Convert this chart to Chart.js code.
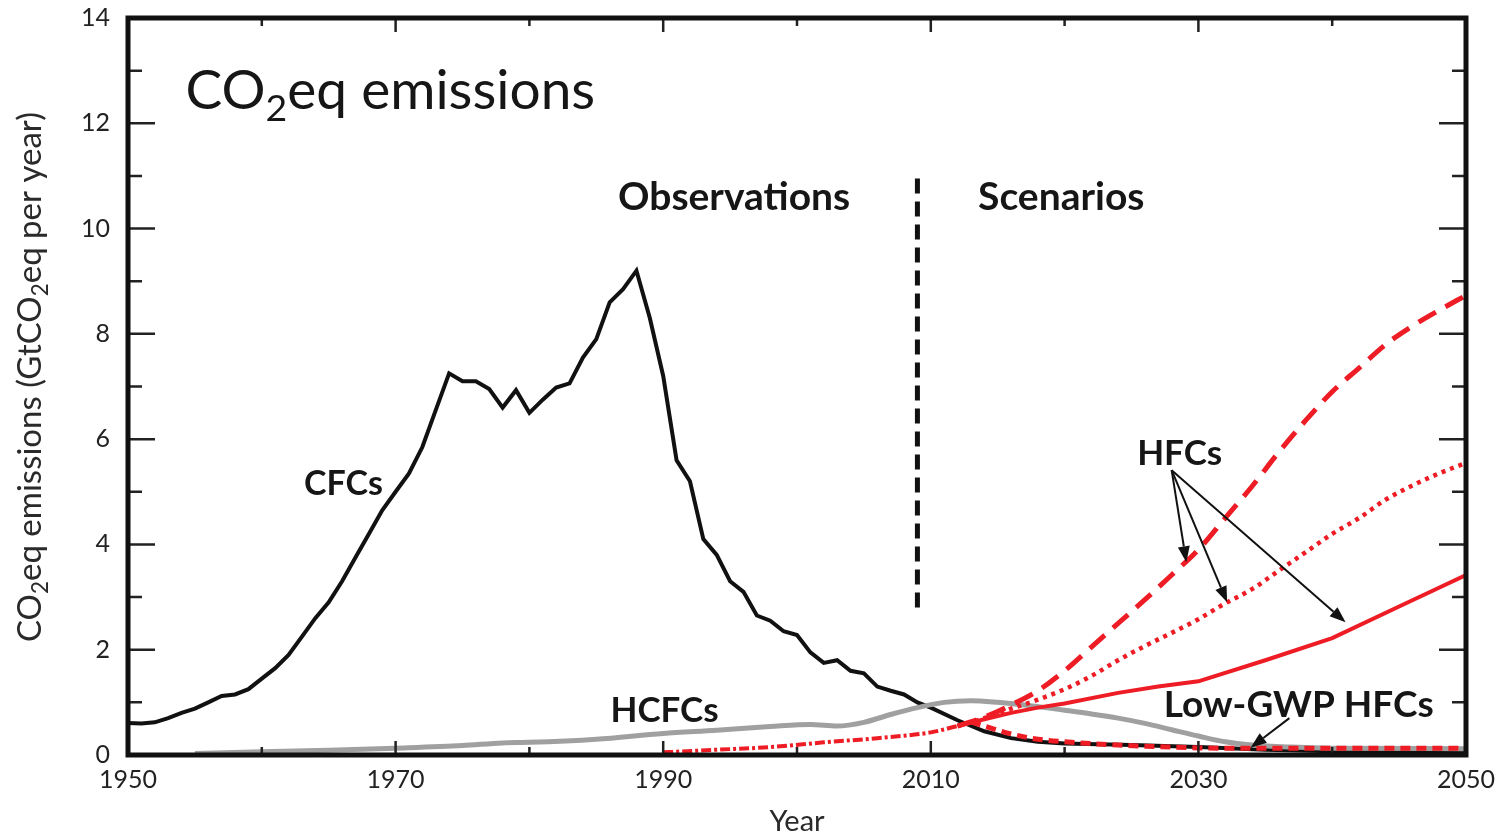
<!DOCTYPE html>
<html>
<head>
<meta charset="utf-8">
<script src="https://cdn.jsdelivr.net/npm/chart.js@4.4.1/dist/chart.umd.min.js"></script>
<style>
  html, body { margin: 0; padding: 0; background: #fff; }
  #wrap { width: 1508px; height: 832px; position: relative; }
</style>
</head>
<body>
<div id="wrap"><canvas id="chart"></canvas></div>
<script>
// CFCs (observed, then projected)
const cfcYears = [1950,1951,1952,1953,1954,1955,1956,1957,1958,1959,1960,1961,1962,1963,1964,1965,1966,1967,1968,1969,
  1970,1971,1972,1973,1974,1975,1976,1977,1978,1979,1980,1981,1982,1983,1984,1985,1986,1987,1988,1989,
  1990,1991,1992,1993,1994,1995,1996,1997,1998,1999,2000,2001,2002,2003,2004,2005,2006,2007,2008,2009,
  2010,2012,2014,2016,2018,2020,2025,2030,2035,2040,2050]
const cfcValues = [0.61,0.6,0.62,0.7,0.8,0.88,1.0,1.12,1.15,1.25,1.45,1.65,1.9,2.25,2.6,2.9,3.3,3.75,4.2,4.65,
  5.0,5.35,5.85,6.55,7.25,7.1,7.1,6.95,6.6,6.93,6.5,6.75,6.98,7.06,7.55,7.9,8.6,8.85,9.2,8.3,
  7.2,5.6,5.2,4.1,3.8,3.3,3.1,2.65,2.55,2.35,2.28,1.95,1.75,1.8,1.6,1.55,1.3,1.22,1.15,1.0,
  0.9,0.66,0.45,0.32,0.25,0.22,0.19,0.15,0.1,0.07,0.05]

// HCFCs
const hcfcYears = [1955,1960,1965,1970,1975,1978,1980,1985,1990,1994,1998,2001,2003,2005,2007,2009,2011,2013,2015,2017,
  2020,2022,2024,2026,2028,2030,2032,2034,2037,2040,2050]
const hcfcValues = [0.03,0.06,0.09,0.13,0.18,0.23,0.24,0.3,0.41,0.47,0.54,0.58,0.55,0.62,0.77,0.9,1.0,1.03,1.0,0.95,
  0.85,0.78,0.7,0.6,0.48,0.36,0.25,0.19,0.15,0.13,0.12]

// HFCs observed part
const hfcObsYears = [1990,1994,1998,2002,2006,2010,2012]
const hfcObsValues = [0.05,0.1,0.15,0.24,0.32,0.43,0.55]

// HFC scenarios
const hfcHighYears = [2012,2014,2016,2018,2020,2022,2024,2026,2028,2030,2032,2034,2036,2038,2040,2042,2044,2046,2048,2050]
const hfcHighValues = [0.55,0.72,0.95,1.22,1.6,2.05,2.5,2.95,3.42,3.9,4.5,5.1,5.75,6.35,6.9,7.35,7.8,8.15,8.45,8.73]

const hfcMidYears = [2012,2014,2016,2018,2020,2022,2024,2026,2028,2030,2032,2034,2036,2038,2040,2042,2044,2046,2048,2050]
const hfcMidValues = [0.55,0.7,0.88,1.05,1.25,1.5,1.8,2.07,2.32,2.58,2.88,3.15,3.5,3.85,4.2,4.5,4.85,5.12,5.35,5.55]

const hfcLowYears = [2012,2014,2016,2018,2020,2024,2027,2030,2035,2040,2045,2050]
const hfcLowValues = [0.55,0.68,0.8,0.9,0.98,1.18,1.3,1.4,1.8,2.22,2.82,3.42]

const lowGwpYears = [2013,2014,2016,2018,2020,2024,2028,2032,2040,2050]
const lowGwpValues = [0.63,0.55,0.4,0.3,0.25,0.19,0.15,0.13,0.13,0.13]

// divider between observations and scenarios
const dividerYears = [2009,2009]
const dividerValues = [2.8,11.1]

const xTickLabels = [1950,1970,1990,2010,2030,2050]
const yTickLabels = [0,2,4,6,8,10,12,14]

const pts = (xs, ys) => xs.map((x, i) => ({ x: x, y: ys[i] }))

const RED = "#ee1c24"
const FONT = "Lato, 'Noto Sans', sans-serif"

function drawRich(ctx, parts, x, y, size, weight, align) {
  // parts: [text, isSub]
  const widths = parts.map(p => {
    ctx.font = `${weight} ${p[1] ? size * 0.68 : size}px ${FONT}`
    return ctx.measureText(p[0]).width
  })
  const total = widths.reduce((a, b) => a + b, 0)
  let cx = align === "center" ? x - total / 2 : x
  ctx.textAlign = "left"
  ctx.textBaseline = "alphabetic"
  parts.forEach((p, i) => {
    ctx.font = `${weight} ${p[1] ? size * 0.68 : size}px ${FONT}`
    ctx.fillText(p[0], cx, y + (p[1] ? size * 0.22 : 0))
    cx += widths[i]
  })
}

function arrow(ctx, x1, y1, x2, y2) {
  const a = Math.atan2(y2 - y1, x2 - x1)
  const len = 16, half = 6
  const bx = x2 - len * Math.cos(a), by = y2 - len * Math.sin(a)
  ctx.beginPath()
  ctx.moveTo(x1, y1)
  ctx.lineTo(bx, by)
  ctx.stroke()
  ctx.beginPath()
  ctx.moveTo(x2, y2)
  ctx.lineTo(bx + half * Math.sin(a), by - half * Math.cos(a))
  ctx.lineTo(bx - half * Math.sin(a), by + half * Math.cos(a))
  ctx.closePath()
  ctx.fill()
}

function label(ctx, text, x, y, size) {
  ctx.font = `bold ${size}px ${FONT}`
  ctx.textAlign = "center"
  ctx.textBaseline = "middle"
  ctx.fillText(text, x, y)
}

const decorations = {
  id: "decorations",
  afterDraw(chart) {
    const ctx = chart.ctx
    const a = chart.chartArea
    const xs = chart.scales.x, ys = chart.scales.y
    const px = v => xs.getPixelForValue(v), py = v => ys.getPixelForValue(v)
    ctx.save()

    // inward ticks on all four sides
    ctx.strokeStyle = "#222"
    ctx.lineWidth = 2.5
    ctx.beginPath()
    for (let v = 0; v <= 14; v++) {
      const len = v % 2 === 0 ? 27 : 14
      const y = py(v)
      ctx.moveTo(a.left, y); ctx.lineTo(a.left + len, y)
      ctx.moveTo(a.right, y); ctx.lineTo(a.right - len, y)
    }
    for (let v = 1950; v <= 2050; v += 10) {
      const len = (v - 1950) % 20 === 0 ? 14 : 8
      const x = px(v)
      ctx.moveTo(x, a.bottom); ctx.lineTo(x, a.bottom - len)
      ctx.moveTo(x, a.top); ctx.lineTo(x, a.top + len)
    }
    ctx.stroke()

    // frame
    ctx.strokeStyle = "#111"
    ctx.lineWidth = 5
    ctx.strokeRect(a.left, a.top, a.right - a.left, a.bottom - a.top)

    // annotations
    ctx.fillStyle = "#161616"
    drawRich(ctx, [["CO", false], ["2", true], ["eq emissions", false]], px(1954.3), py(12.28), 55, "normal", "left")
    label(ctx, "Observations", px(1995.3), py(10.6), 39)
    label(ctx, "Scenarios", px(2019.75), py(10.6), 39)
    label(ctx, "CFCs", px(1966.1), py(5.14), 34)
    label(ctx, "HCFCs", px(1990.1), py(0.85), 35)
    label(ctx, "HFCs", px(2028.6), py(5.73), 35)
    label(ctx, "Low-GWP HFCs", px(2037.5), py(0.95), 37)

    // arrows
    ctx.strokeStyle = "#111"
    ctx.fillStyle = "#111"
    ctx.lineWidth = 2
    const tailX = px(2028.0), tailY = py(5.41)
    arrow(ctx, tailX, tailY, px(2029.1), py(3.66))
    arrow(ctx, tailX, tailY, px(2032.15), py(2.9))
    arrow(ctx, tailX, tailY, px(2041.0), py(2.52))
    arrow(ctx, px(2036.8), py(0.7), px(2033.9), py(0.14))

    // axis titles
    ctx.fillStyle = "#2a2a2a"
    ctx.font = `29px ${FONT}`
    ctx.textAlign = "center"
    ctx.textBaseline = "middle"
    ctx.fillText("Year", (a.left + a.right) / 2, 822)
    ctx.save()
    ctx.translate(30, 377)
    ctx.rotate(-Math.PI / 2)
    drawRich(ctx, [["CO", false], ["2", true], ["eq emissions (GtCO", false], ["2", true], ["eq per year)", false]], 0, 11, 33, "normal", "center")
    ctx.restore()

    ctx.restore()
  }
}

// higher "order" is drawn first (underneath)
const ctx = document.getElementById("chart").getContext("2d")
new Chart(ctx, {
  type: "scatter",
  data: {
    datasets: [
      { label: "CFCs", order: 8, data: pts(cfcYears, cfcValues), borderColor: "#111", borderWidth: 4 },
      { label: "HCFCs", order: 7, data: pts(hcfcYears, hcfcValues), borderColor: "#a0a0a0", borderWidth: 5, cubicInterpolationMode: "monotone" },
      { label: "HFCs observed", order: 6, data: pts(hfcObsYears, hfcObsValues), borderColor: RED, borderWidth: 4, borderDash: [10, 3, 3, 3], cubicInterpolationMode: "monotone" },
      { label: "HFCs high", order: 5, data: pts(hfcHighYears, hfcHighValues), borderColor: RED, borderWidth: 5, borderDash: [20, 11], cubicInterpolationMode: "monotone" },
      { label: "HFCs mid", order: 4, data: pts(hfcMidYears, hfcMidValues), borderColor: RED, borderWidth: 4.5, borderDash: [4, 5], cubicInterpolationMode: "monotone" },
      { label: "HFCs low", order: 3, data: pts(hfcLowYears, hfcLowValues), borderColor: RED, borderWidth: 4 },
      { label: "Low-GWP HFCs", order: 2, data: pts(lowGwpYears, lowGwpValues), borderColor: RED, borderWidth: 5, borderDash: [10, 6], cubicInterpolationMode: "monotone" },
      { label: "divider", order: 1, data: pts(dividerYears, dividerValues), borderColor: "#111", borderWidth: 5, borderDash: [15, 8] }
    ].map(d => Object.assign({ showLine: true, pointRadius: 0, fill: false, borderCapStyle: "butt" }, d))
  },
  options: {
    responsive: true,
    maintainAspectRatio: false,
    animation: false,
    layout: { padding: { left: 0, right: 42, top: 18, bottom: 0 } },
    plugins: { legend: { display: false }, tooltip: { enabled: false } },
    scales: {
      x: {
        type: "linear",
        min: 1950,
        max: 2050,
        grid: { display: false, drawTicks: false, tickLength: 0 },
        border: { display: false },
        afterFit: scale => {
          scale.height = 77
          scale.paddingLeft = 0
          scale.paddingRight = 0
        },
        ticks: {
          stepSize: 10,
          autoSkip: false,
          maxRotation: 0,
          padding: 10,
          color: "#222",
          font: { family: FONT, size: 25 },
          callback: v => xTickLabels.includes(v) ? String(v) : ""
        }
      },
      y: {
        min: 0,
        max: 14,
        grid: { display: false, drawTicks: false, tickLength: 0 },
        border: { display: false },
        afterFit: scale => {
          scale.width = 128
          scale.paddingTop = 0
          scale.paddingBottom = 0
        },
        ticks: {
          stepSize: 1,
          autoSkip: false,
          padding: 18,
          color: "#222",
          font: { family: FONT, size: 25 },
          callback: v => yTickLabels.includes(v) ? String(v) : ""
        }
      }
    }
  },
  plugins: [decorations]
})
</script>
</body>
</html>
